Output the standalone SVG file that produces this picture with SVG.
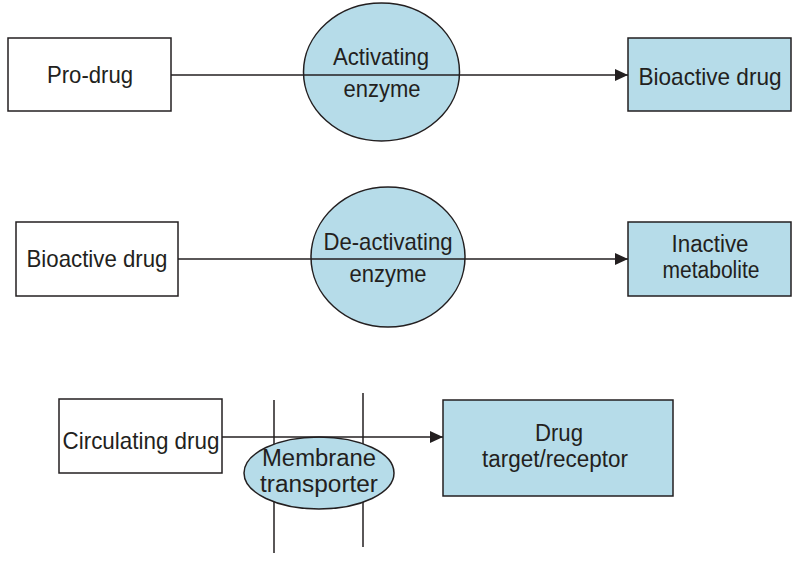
<svg xmlns="http://www.w3.org/2000/svg" width="800" height="563" viewBox="0 0 800 563">
<defs>
<style>
.box{fill:#ffffff;stroke:#231f20;stroke-width:1.5}
.blue{fill:#b6dce9;stroke:#231f20;stroke-width:1.5}
.ln{fill:none;stroke:#231f20;stroke-width:1.5}
text{font-family:"Liberation Sans",Arial,sans-serif;font-size:24px;fill:#231f20;text-anchor:middle}
text.s{font-size:23px}
</style>
<marker id="arr" markerUnits="userSpaceOnUse" markerWidth="14" markerHeight="14" refX="13" refY="6" orient="auto">
<path d="M0,0 L13,6 L0,12 Z" fill="#231f20"/>
</marker>
</defs>
<rect width="800" height="563" fill="#ffffff"/>

<g id="membranes">
<line class="ln" x1="274" y1="400" x2="274" y2="553"/>
<line class="ln" x1="363" y1="393" x2="363" y2="547"/>
</g>

<g id="n-prodrug">
<rect class="box" x="8" y="38" width="163" height="73"/>
<text x="90" y="83" textLength="86" lengthAdjust="spacingAndGlyphs">Pro-drug</text>
</g>
<g id="n-activating">
<ellipse class="blue" cx="381.5" cy="72" rx="78" ry="69"/>
<text x="381" y="65" textLength="96" lengthAdjust="spacingAndGlyphs">Activating</text>
<text x="382" y="97" textLength="77" lengthAdjust="spacingAndGlyphs">enzyme</text>
</g>
<g id="n-bioactive1">
<rect class="blue" x="628" y="38" width="163" height="73"/>
<text x="710" y="85" textLength="143" lengthAdjust="spacingAndGlyphs">Bioactive drug</text>
</g>

<g id="n-bioactive2">
<rect class="box" x="16" y="222" width="162" height="74"/>
<text x="97" y="267" textLength="141" lengthAdjust="spacingAndGlyphs">Bioactive drug</text>
</g>
<g id="n-deactivating">
<ellipse class="blue" cx="388" cy="257" rx="77" ry="70"/>
<text x="388" y="250" textLength="129" lengthAdjust="spacingAndGlyphs">De-activating</text>
<text x="388" y="282" textLength="77" lengthAdjust="spacingAndGlyphs">enzyme</text>
</g>
<g id="n-inactive">
<rect class="blue" x="628" y="222" width="163" height="74"/>
<text class="s" x="710" y="252" textLength="77" lengthAdjust="spacingAndGlyphs">Inactive</text>
<text class="s" x="711" y="278" textLength="97" lengthAdjust="spacingAndGlyphs">metabolite</text>
</g>

<g id="n-circulating">
<rect class="box" x="59" y="399" width="163" height="74"/>
<text x="141" y="449" textLength="157" lengthAdjust="spacingAndGlyphs">Circulating drug</text>
</g>
<g id="n-transporter">
<ellipse class="blue" cx="319" cy="473" rx="75" ry="36"/>
<text class="s" x="319" y="466" textLength="114" lengthAdjust="spacingAndGlyphs">Membrane</text>
<text class="s" x="319" y="492" textLength="118" lengthAdjust="spacingAndGlyphs">transporter</text>
</g>
<g id="n-target">
<rect class="blue" x="443" y="400" width="230" height="96"/>
<text class="s" x="559" y="441" textLength="48" lengthAdjust="spacingAndGlyphs">Drug</text>
<text class="s" x="555" y="467" textLength="146" lengthAdjust="spacingAndGlyphs">target/receptor</text>
</g>

<g id="connectors">
<line class="ln" x1="171" y1="75" x2="628" y2="75" marker-end="url(#arr)"/>
<line class="ln" x1="178" y1="259" x2="628" y2="259" marker-end="url(#arr)"/>
<line class="ln" x1="222" y1="437" x2="443" y2="437" marker-end="url(#arr)"/>
</g>
</svg>
